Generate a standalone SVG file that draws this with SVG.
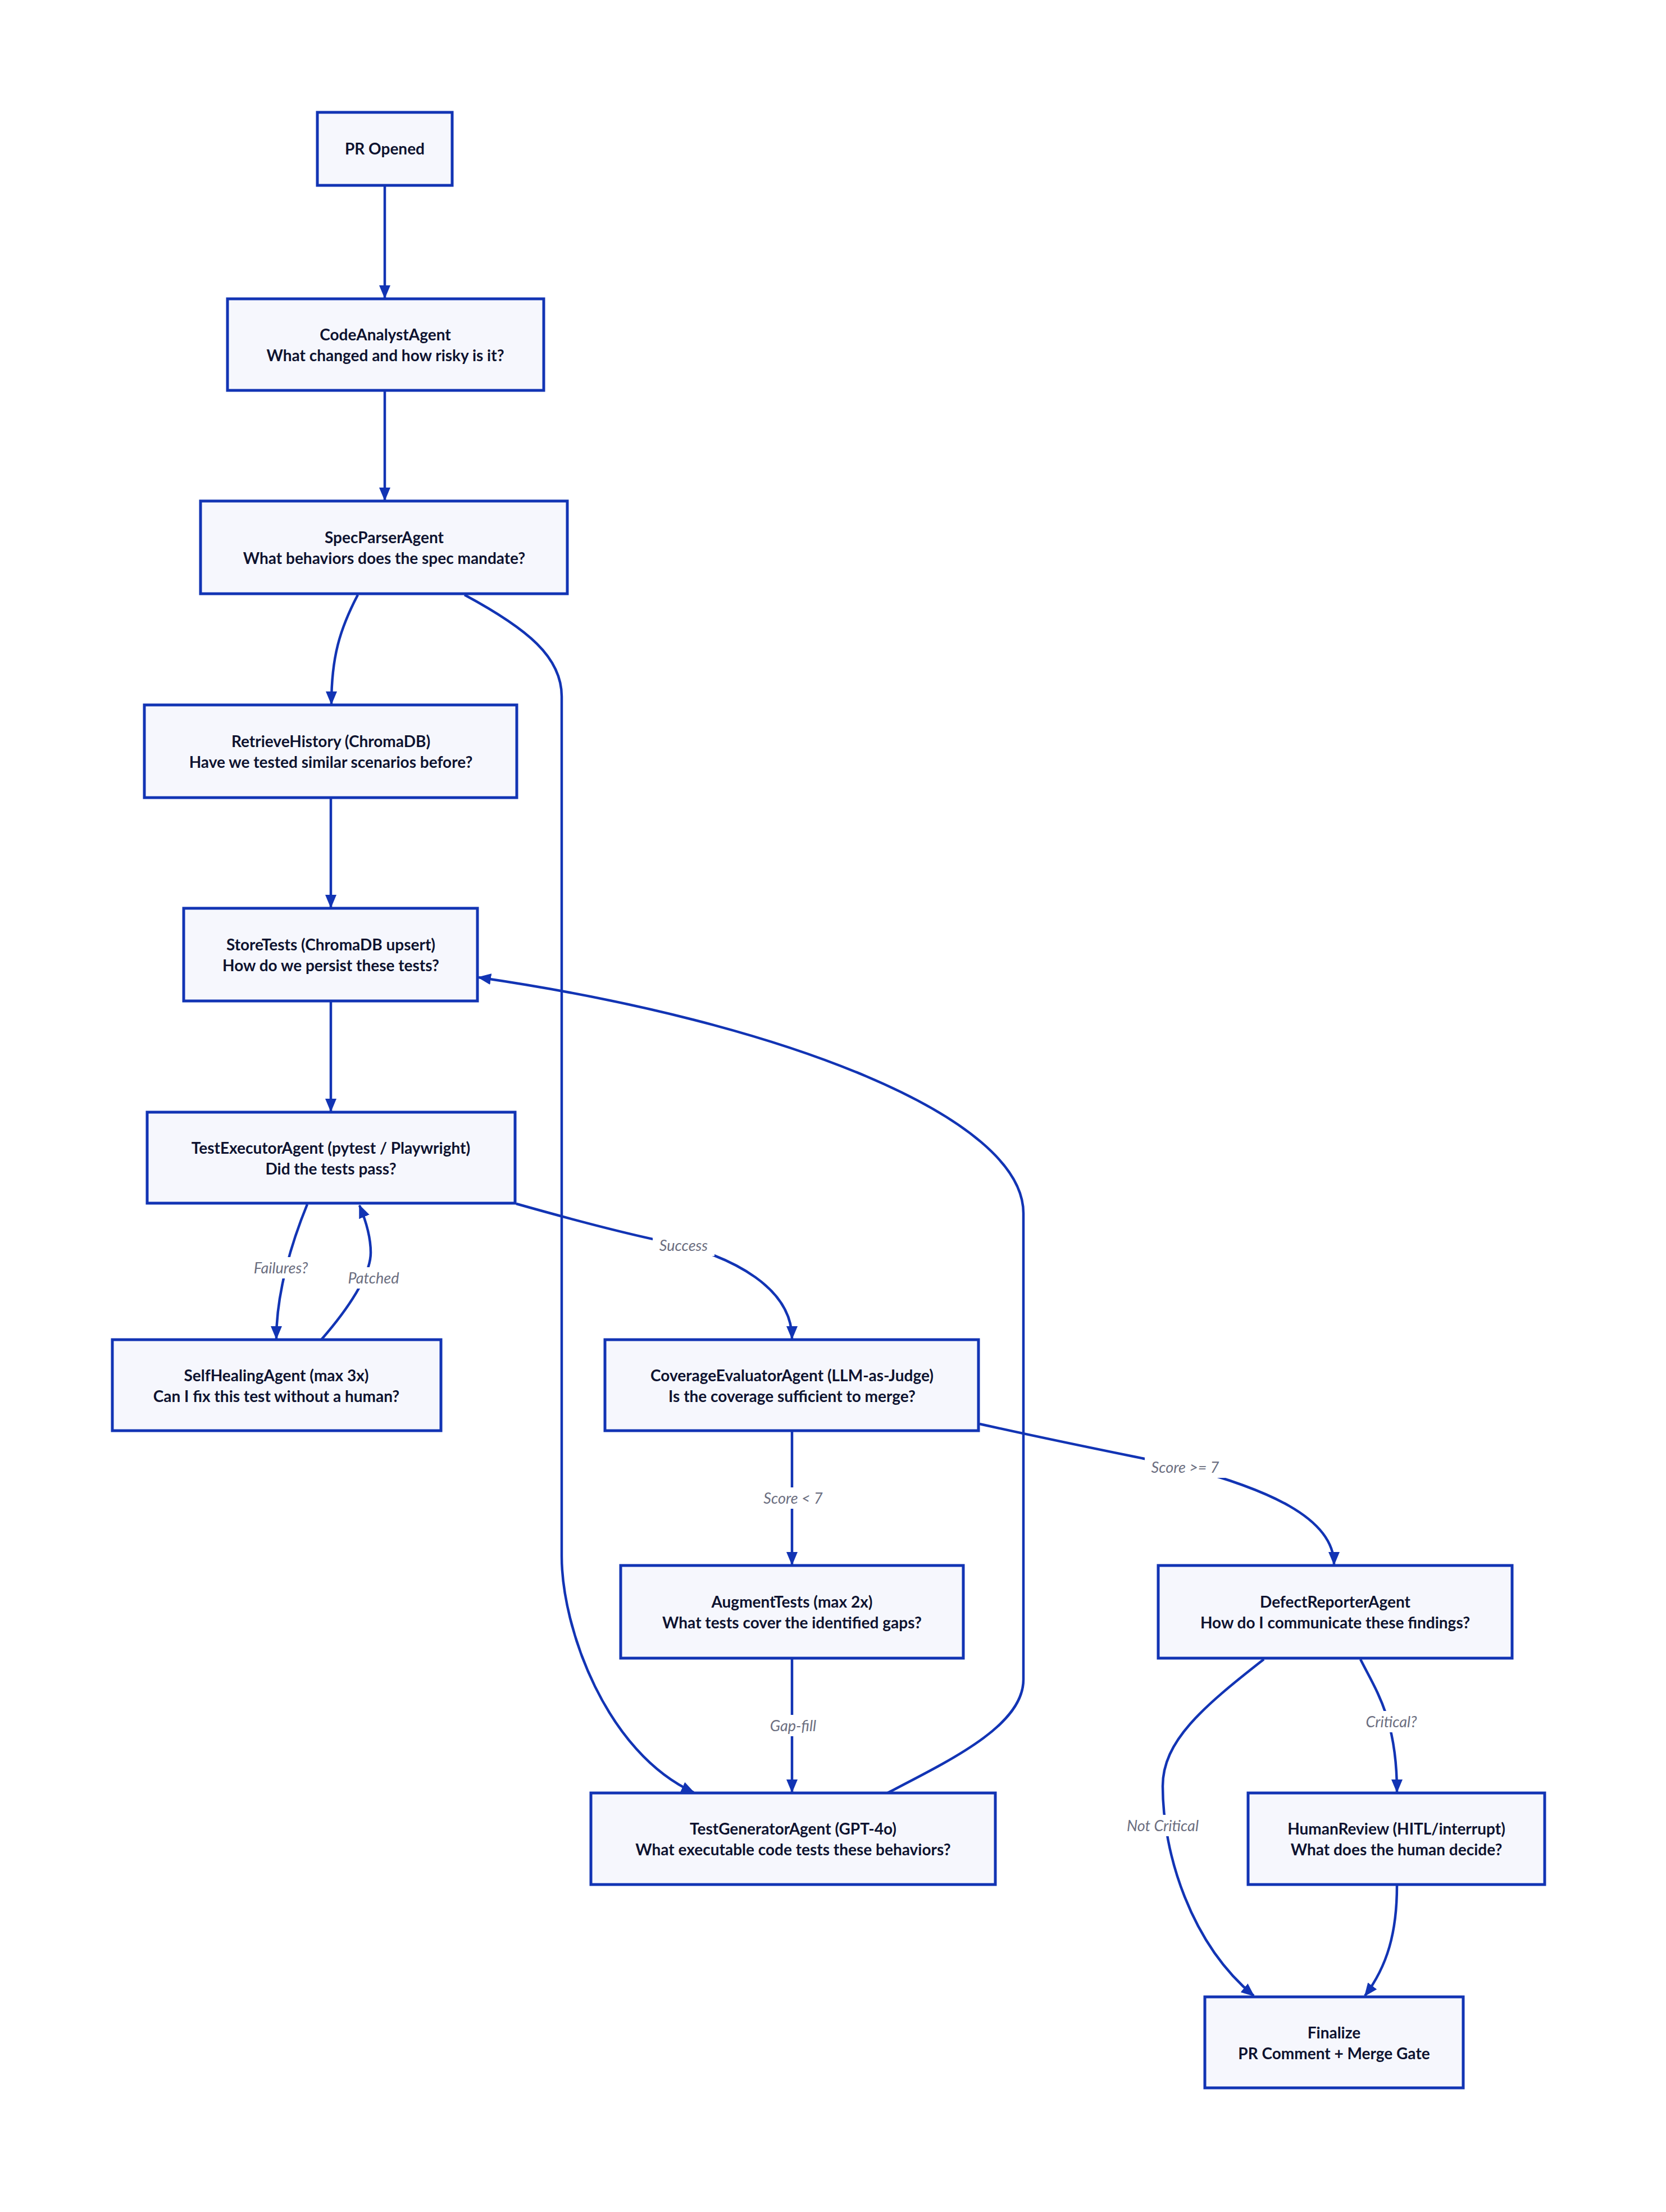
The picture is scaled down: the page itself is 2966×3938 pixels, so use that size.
<svg xmlns="http://www.w3.org/2000/svg" width="2966" height="3938" viewBox="0 0 2966 3938">
<style>
.n rect{fill:#f6f7fd;stroke:#1234b4;stroke-width:5}
.n text{font-family:Lato,"Open Sans",sans-serif;font-weight:bold;font-size:28px;fill:#0e1330;text-anchor:middle}
.e path{fill:none;stroke:#1234b4;stroke-width:4.5}
.l rect{fill:#fff}
.l text{font-family:Lato,"Open Sans",sans-serif;font-style:italic;font-size:27px;fill:#6b6e80;text-anchor:middle}
</style>
<defs><marker id="a" markerUnits="userSpaceOnUse" markerWidth="24" markerHeight="24" viewBox="0 0 24 24" refX="22" refY="12" orient="auto"><path d="M0,2 L24,12 L0,22 Z" fill="#1234b4"/></marker></defs>
<rect width="2966" height="3938" fill="#fff"/>
<g class="e">
<path d="M685,332 L685,530" marker-end="url(#a)"/>
<path d="M685,697 L685,890" marker-end="url(#a)"/>
<path d="M637,1059 C605,1120 590,1170 590,1253" marker-end="url(#a)"/>
<path d="M827,1059 C940,1120 1000,1170 1000,1240 L1000,2770 C1000,2900 1080,3120 1235,3191" marker-end="url(#a)"/>
<path d="M589,1422 L589,1615" marker-end="url(#a)"/>
<path d="M589,1784 L589,1978" marker-end="url(#a)"/>
<path d="M547,2144 C520,2210 492,2300 492,2383" marker-end="url(#a)"/>
<path d="M572,2385 C620,2330 660,2270 660,2230 C660,2200 650,2170 640,2146" marker-end="url(#a)"/>
<path d="M919,2143 C1050,2180 1150,2205 1217,2217 C1300,2240 1410,2290 1410,2383" marker-end="url(#a)"/>
<path d="M1410,2549 L1410,2785" marker-end="url(#a)"/>
<path d="M1410,2954 L1410,3190" marker-end="url(#a)"/>
<path d="M1580,3192 C1700,3130 1822,3070 1822,2990 L1822,2160 C1822,1990 1400,1820 852,1740" marker-end="url(#a)"/>
<path d="M1744,2535 C1900,2570 2030,2595 2110,2612 C2250,2650 2375,2700 2375,2785" marker-end="url(#a)"/>
<path d="M2422,2954 C2450,3010 2487,3060 2487,3190" marker-end="url(#a)"/>
<path d="M2250,2954 C2140,3040 2070,3100 2070,3180 C2070,3300 2120,3460 2232,3553" marker-end="url(#a)"/>
<path d="M2487,3357 C2487,3440 2470,3500 2430,3553" marker-end="url(#a)"/>
</g>
<g class="l">
<rect x="438" y="2238" width="124" height="38"/><text x="500" y="2267">Failures?</text>
<rect x="606" y="2256" width="118" height="38"/><text x="665" y="2285">Patched</text>
<rect x="1162" y="2198" width="110" height="38"/><text x="1217" y="2227">Success</text>
<rect x="1347" y="2648" width="130" height="38"/><text x="1412" y="2677">Score &lt; 7</text>
<rect x="1357" y="3053" width="110" height="38"/><text x="1412" y="3082">Gap-fill</text>
<rect x="2038" y="2593" width="144" height="38"/><text x="2110" y="2622">Score &gt;= 7</text>
<rect x="2417" y="3046" width="120" height="38"/><text x="2477" y="3075">Critical?</text>
<rect x="1995" y="3231" width="150" height="38"/><text x="2070" y="3260">Not Critical</text>
</g>
<g class="n" id="pr"><rect x="565" y="200" width="240" height="130"/><text x="685" y="275">PR Opened</text></g>
<g class="n" id="code"><rect x="405" y="532" width="563" height="163"/><text x="686" y="606">CodeAnalystAgent</text><text x="686" y="643">What changed and how risky is it?</text></g>
<g class="n" id="spec"><rect x="357" y="892" width="653" height="165"/><text x="684" y="967">SpecParserAgent</text><text x="684" y="1004">What behaviors does the spec mandate?</text></g>
<g class="n" id="retrieve"><rect x="257" y="1255" width="663" height="165"/><text x="589" y="1330">RetrieveHistory (ChromaDB)</text><text x="589" y="1367">Have we tested similar scenarios before?</text></g>
<g class="n" id="store"><rect x="327" y="1617" width="523" height="165"/><text x="589" y="1692">StoreTests (ChromaDB upsert)</text><text x="589" y="1729">How do we persist these tests?</text></g>
<g class="n" id="exec"><rect x="262" y="1980" width="655" height="162"/><text x="589" y="2054">TestExecutorAgent (pytest / Playwright)</text><text x="589" y="2091">Did the tests pass?</text></g>
<g class="n" id="heal"><rect x="200" y="2385" width="585" height="162"/><text x="492" y="2459">SelfHealingAgent (max 3x)</text><text x="492" y="2496">Can I fix this test without a human?</text></g>
<g class="n" id="cov"><rect x="1077" y="2385" width="665" height="162"/><text x="1410" y="2459">CoverageEvaluatorAgent (LLM-as-Judge)</text><text x="1410" y="2496">Is the coverage sufficient to merge?</text></g>
<g class="n" id="aug"><rect x="1105" y="2787" width="610" height="165"/><text x="1410" y="2862">AugmentTests (max 2x)</text><text x="1410" y="2899">What tests cover the identified gaps?</text></g>
<g class="n" id="defect"><rect x="2062" y="2787" width="630" height="165"/><text x="2377" y="2862">DefectReporterAgent</text><text x="2377" y="2899">How do I communicate these findings?</text></g>
<g class="n" id="gen"><rect x="1052" y="3192" width="720" height="163"/><text x="1412" y="3266">TestGeneratorAgent (GPT-4o)</text><text x="1412" y="3303">What executable code tests these behaviors?</text></g>
<g class="n" id="human"><rect x="2222" y="3192" width="528" height="163"/><text x="2486" y="3266">HumanReview (HITL/interrupt)</text><text x="2486" y="3303">What does the human decide?</text></g>
<g class="n" id="final"><rect x="2145" y="3555" width="460" height="162"/><text x="2375" y="3629">Finalize</text><text x="2375" y="3666">PR Comment + Merge Gate</text></g>
</svg>
